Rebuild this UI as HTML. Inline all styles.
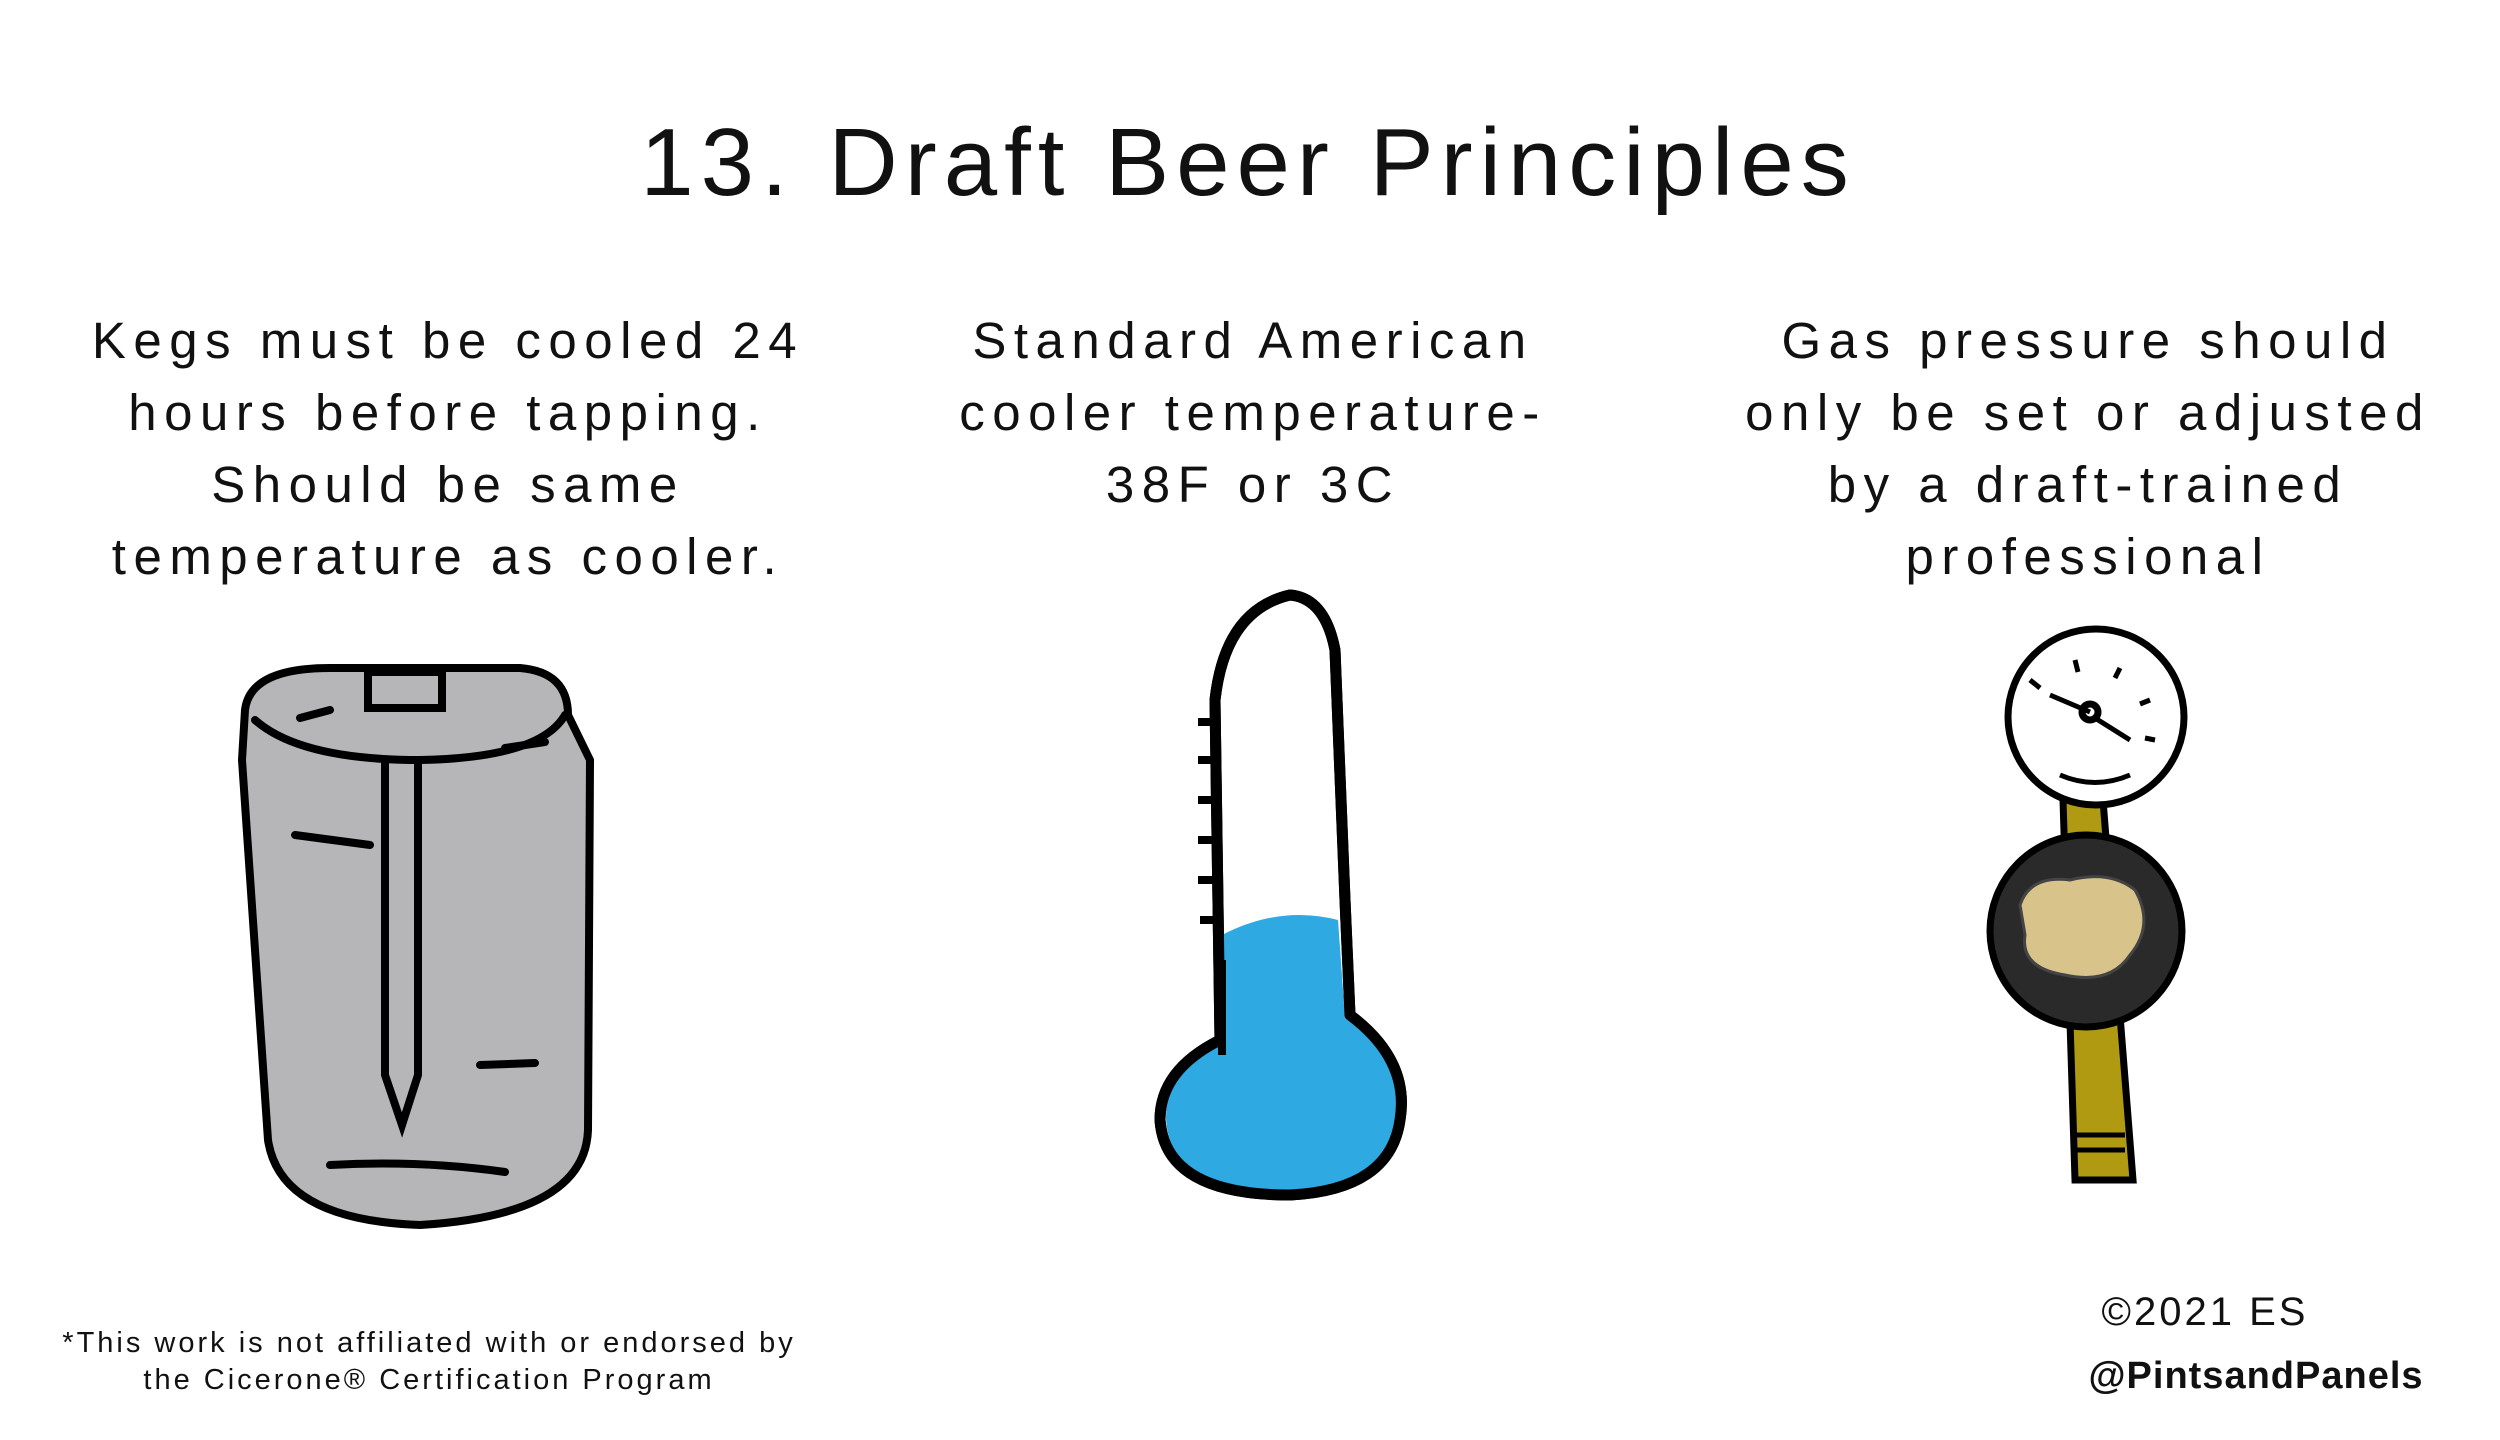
<!DOCTYPE html>
<html><head><meta charset="utf-8"><style>
html,body{margin:0;padding:0;background:#fff;}
#c{position:relative;width:2500px;height:1440px;overflow:hidden;background:#fff;font-family:"Liberation Sans",sans-serif;color:#111;}
.t{position:absolute;text-align:center;white-space:nowrap;transform:translateX(-50%);}
.cap{font-size:51px;line-height:72px;letter-spacing:7.5px;}
</style></head><body>
<div id="c">
<div class="t" style="left:1248px;top:108px;font-size:96px;letter-spacing:7px;">13. Draft Beer Principles</div>

<div class="t cap" style="left:448px;top:305px;">Kegs must be cooled 24<br>hours before tapping.<br>Should be same<br>temperature as cooler.</div>
<div class="t cap" style="left:1253px;top:305px;">Standard American<br>cooler temperature-<br>38F or 3C</div>
<div class="t cap" style="left:2088px;top:305px;">Gas pressure should<br>only be set or adjusted<br>by a draft-trained<br>professional</div>

<svg width="2500" height="1440" style="position:absolute;left:0;top:0">
 <g stroke="#000" stroke-width="8" fill="#b6b6b8" stroke-linecap="round">
  <path d="M245 710 Q250 668 330 668 L520 668 Q568 672 568 715 L590 760 L588 1130 Q585 1215 420 1225 Q280 1220 268 1140 L242 760 Z"/>
  <path d="M255 720 Q300 760 420 760 Q540 758 565 715" fill="none"/>
  <rect x="368" y="672" width="74" height="36" fill="#b6b6b8"/>
  <path d="M385 762 L385 1075 L402 1125 L418 1075 L418 762" fill="none"/>
  <path d="M295 835 L370 845 M480 1065 L535 1063 M330 1165 Q420 1160 505 1172 M300 718 L330 710 M505 748 L545 742" fill="none"/>
 </g>
 <g stroke="#000" stroke-width="11" stroke-linejoin="round">
  <path d="M1220 1040 L1215 700 Q1225 610 1290 595 Q1325 598 1335 650 L1345 900 L1350 1015 Q1410 1060 1400 1120 Q1390 1190 1290 1195 Q1165 1195 1160 1120 Q1160 1070 1220 1040 Z" fill="#fff"/>
  <path d="M1222 935 Q1280 905 1338 920 L1345 1018 Q1405 1060 1396 1118 Q1388 1188 1290 1190 Q1168 1190 1166 1118 Q1166 1070 1222 1045 Z" fill="#2fa9e2" stroke="none"/>
  <path d="M1220 1040 L1215 700 Q1225 610 1290 595 Q1325 598 1335 650 L1345 900 L1350 1015 Q1410 1060 1400 1120 Q1390 1190 1290 1195 Q1165 1195 1160 1120 Q1160 1070 1220 1040 Z" fill="none"/>
  <path d="M1198 722 L1215 722 M1198 760 L1215 760 M1198 800 L1215 800 M1198 840 L1215 840 M1198 880 L1215 880 M1200 920 L1218 920 M1222 960 L1222 1055" fill="none" stroke-width="8"/>
 </g>
 <g stroke="#000" stroke-width="7">
  <path d="M2063 800 L2103 800 L2133 1180 L2075 1180 Z" fill="#b09a12"/>
  <path d="M2075 1135 L2125 1135 M2075 1150 L2125 1150" fill="none" stroke-width="5"/>
  <circle cx="2096" cy="717" r="88" fill="#fff"/>
  <circle cx="2090" cy="712" r="8" fill="#fff"/>
  <path d="M2090 712 L2050 695 M2095 718 L2130 740 M2030 680 L2040 688 M2075 660 L2078 672 M2120 668 L2115 678 M2150 700 L2140 704 M2155 740 L2145 738 M2060 775 Q2095 790 2130 775" fill="none" stroke-width="5"/>
  <circle cx="2086" cy="931" r="96" fill="#2a2a2a"/>
  <path d="M2020 905 Q2030 875 2070 880 Q2110 870 2135 890 Q2155 925 2130 955 Q2110 985 2065 975 Q2020 968 2025 935 Z" fill="#d8c48a" stroke="#444" stroke-width="3"/>
 </g>
</svg>

<div class="t" style="left:429px;top:1325px;font-size:29px;line-height:37px;letter-spacing:3px;">*This work is not affiliated with or endorsed by<br>the Cicerone® Certification Program</div>
<div class="t" style="left:2205px;top:1290px;font-size:40px;letter-spacing:3px;">©2021 ES</div>
<div class="t" style="left:2256px;top:1355px;font-size:38px;font-weight:bold;letter-spacing:1px;">@PintsandPanels</div>
</div>
</body></html>
